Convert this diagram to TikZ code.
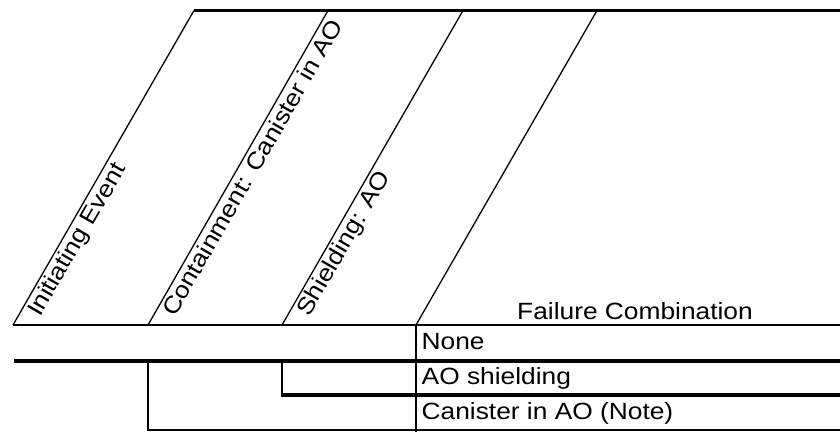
\documentclass[tikz,border=0pt]{standalone}
\usepackage{fontspec}
\setmainfont{Liberation Sans}
\newcommand{\wide}[1]{\scalebox{1.12}[1]{#1}}
\begin{document}
\begin{tikzpicture}[x=1pt,y=-1pt,
  diag/.style={line width=1.3pt},
  rule/.style={line width=2.2pt},
  path/.style={line width=4.5pt},
  tick/.style={line width=2.3pt},
  txt/.style={inner sep=0pt,font=\fontsize{23.5}{28}\selectfont},
  head/.style={txt,rotate=60,anchor=base west}]
\useasboundingbox (0,0) rectangle (840,432);
% header frame
\coordinate (t0) at (194,10.5);
\coordinate (t1) at (328,10.5);
\coordinate (t2) at (463,10.5);
\coordinate (t3) at (597,10.5);
\coordinate (tE) at (840,10.5);
\coordinate (b0) at (13,325);
\coordinate (b1) at (148,325);
\coordinate (b2) at (282,325);
\coordinate (b3) at (416,325);
\coordinate (bE) at (840,325);
\draw[rule] (t0) -- (tE);
\draw[rule] (b0) -- (bE);
\draw[diag] (b0) -- (t0);
\draw[diag] (b1) -- (t1);
\draw[diag] (b2) -- (t2);
\draw[diag] (b3) -- (t3);
% headings
\node[head] (h0) at (40,318) {\wide{Initiating Event}};
\node[head] (h1) at (175,318) {\wide{Containment: Canister in AO}};
\node[head] (h2) at (309,318) {\wide{Shielding: AO}};
\node[txt,anchor=base] (h3) at (635,319) {\wide{Failure Combination}};
% event tree paths
\coordinate (p0) at (14,361);
\coordinate (p0E) at (840,361);
\coordinate (s1) at (148,361);
\coordinate (s1b) at (148,430);
\coordinate (s1E) at (840,430);
\coordinate (s2) at (282,361);
\coordinate (s2b) at (282,395);
\coordinate (s2E) at (840,395);
\draw[path] (p0) -- (p0E);
\draw[tick] (s1) -- (s1b);
\draw[rule] ([xshift=-1.1pt]s1b) -- (s1E);
\draw[tick] (s2) -- (s2b);
\draw[path] ([xshift=-1.1pt]s2b) -- (s2E);
% result column
\coordinate (v0) at (416,325);
\coordinate (v1) at (416,432);
\draw[tick] (v0) -- (v1);
\node[txt,anchor=base west] (r1) at (421.5,349) {\wide{None}};
\node[txt,anchor=base west] (r2) at (421.5,384) {\wide{AO shielding}};
\node[txt,anchor=base west] (r3) at (421.5,419) {\wide{Canister in AO (Note)}};
\end{tikzpicture}
\end{document}
